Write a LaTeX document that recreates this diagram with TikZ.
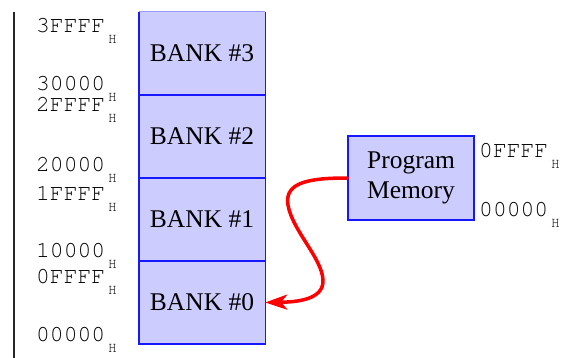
\documentclass[tikz,border=0pt]{standalone}
\usepackage{fontspec}
\setmainfont{Liberation Serif}
\setmonofont{TeX Gyre Cursor}
\usetikzlibrary{arrows.meta}
\definecolor{bankfill}{RGB}{204,204,255}
\definecolor{bankline}{RGB}{24,24,255}
\begin{document}
\begin{tikzpicture}[x=1pt,y=-1pt,
  bank/.style={fill=bankfill, draw=none, minimum width=126pt, minimum height=83pt,
    inner sep=0pt, font=\fontsize{25.5}{30}\selectfont},
  edge/.style={draw=bankline, line width=1.4pt},
  addr/.style={anchor=base west, inner sep=0pt, text=black,
    font=\fontsize{23}{24}\ttfamily},
  hsub/.style={anchor=base west, inner sep=0pt, text=black,
    font=\fontsize{14.5}{14}\ttfamily},
  pmem/.style={fill=bankfill, draw=bankline, line width=1.4pt, minimum width=126pt,
    minimum height=84pt, inner sep=0pt, align=center, font=\fontsize{25.5}{30}\selectfont},
  link/.style={draw=red, line width=3.5pt, line cap=round,
    -{Stealth[length=22pt,width=15pt,inset=6pt]}}]
\useasboundingbox (0,0) rectangle (563,358);

% address axis
\coordinate (axtop) at (14,12);
\coordinate (axbot) at (14,358);
\draw[line width=1.2pt, black!85] (axtop) -- (axbot);

% memory banks
\node[bank] (b3) at (202,53.5)  {BANK \#3};
\node[bank] (b2) at (202,136.5) {BANK \#2};
\node[bank] (b1) at (202,219.5) {BANK \#1};
\node[bank] (b0) at (202,302.5) {BANK \#0};
\draw[draw=bankline!45, line width=1.4pt] (b3.north west) -- (b3.north east);
\draw[edge] (b3.north west) -- (b0.south west) -- (b0.south east) -- (b3.north east);
\draw[edge] (b3.south west) -- (b3.south east);
\draw[edge] (b2.south west) -- (b2.south east);
\draw[edge] (b1.south west) -- (b1.south east);

% program memory window
\node[pmem] (pm) at (411,178) {Program\\Memory};

% hexadecimal address limits, each with its subscript H
\foreach \n/\t/\x/\y in {a3hi/3FFFF/36/33, a3lo/30000/36/91, a2hi/2FFFF/36/112,
    a2lo/20000/36/172, a1hi/1FFFF/36/200.5, a1lo/10000/36/258, a0hi/0FFFF/36/284,
    a0lo/00000/36/341.5, phi/0FFFF/479/158, plo/00000/479/217} {
  \node[addr] (\n) at (\x,\y) {\t};
  \node[hsub] (\n-h) at ([shift={(2.5pt,-11pt)}]\n.base east) {H};
}

% mapping onto bank 0
\draw[link] (pm.west) .. controls (310,178) and (284,182) .. (288,205)
  .. controls (292,230) and (322,258) .. (323,280)
  .. controls (324,300) and (296,302) .. (b0.east);
\end{tikzpicture}
\end{document}
